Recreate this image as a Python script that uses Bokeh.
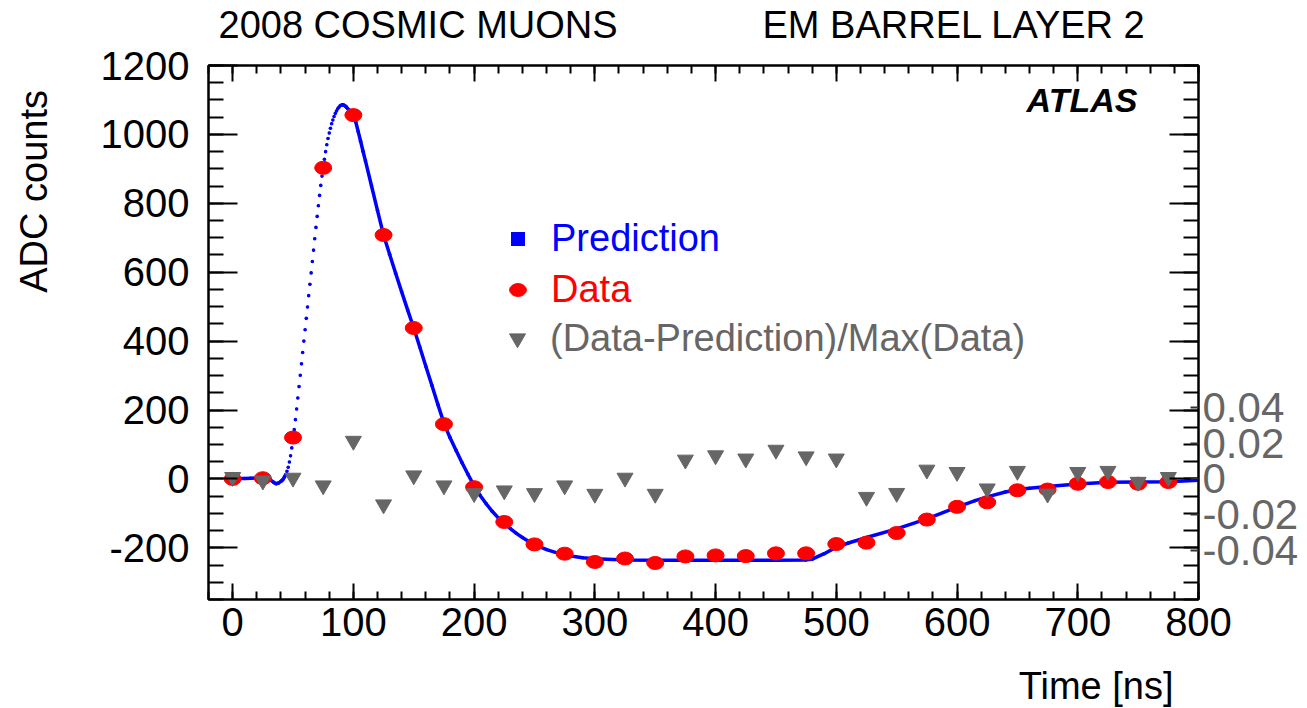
import numpy as np
from bokeh.plotting import figure
from bokeh.layouts import column, row
from bokeh.models import (Range1d, LinearAxis, SingleIntervalTicker, FixedTicker,
                          CustomJSTickFormatter, Label, Legend, LegendItem)
from bokeh.embed import file_html
from bokeh.resources import INLINE

# ---------------- data ----------------
data_time = [0, 25, 50, 75, 100, 125, 150, 175, 200, 225, 250, 275, 300, 325, 350, 375,
             400, 425, 450, 475, 500, 525, 550, 575, 600, 625, 650, 675, 700, 725, 750, 775]
data_adc = [0, 2, 120, 903, 1056, 708, 438, 159, -24, -125, -190, -217, -241, -231, -244, -225,
            -222, -224, -216, -216, -189, -185, -157, -118, -81, -68, -33, -31, -14, -9, -14, -9]
# (Data-Prediction)/Max(Data)
resid_values = [0.001, -0.001, 0.0006, -0.0037, 0.0212, -0.0143, 0.0019, -0.0037, -0.008, -0.0065,
                -0.008, -0.0037, -0.0084, 0.0006, -0.0084, 0.0107, 0.0131, 0.0113, 0.0162, 0.0125,
                0.0113, -0.0101, -0.0079, 0.0051, 0.0038, -0.0054, 0.0044, -0.0083, 0.0038, 0.0044,
                -0.0017, 0.001]

pred_time = [0, 5, 10, 15, 20, 25, 28, 31, 34, 36, 38,
             40, 41, 42, 43, 44, 45, 46, 47, 48, 49, 50, 51, 52, 53, 54, 55, 56, 57, 58, 59,
             60, 61, 62, 63, 64, 65, 66, 67, 68, 69, 70, 71, 72, 73, 74, 75, 76, 77, 78, 79,
             80, 81, 82, 83, 84, 85, 86, 87, 88, 89, 90, 91, 92, 93, 94, 95, 96,
             98, 100, 102, 104, 106, 108, 110, 115, 120, 125, 130, 135, 140, 145, 150, 155,
             160, 165, 170, 175, 180, 185, 190, 195, 200, 205, 210, 215, 220, 225, 230, 235,
             240, 245, 250, 260, 270, 280, 290, 300, 325, 350, 400, 450, 475, 480, 490, 500,
             510, 525, 550, 575, 600, 615, 625, 640, 650, 660, 675, 700, 725, 750, 775, 800]
pred_adc = [0, 1, 1, 2, 3, 4, 3, -2, -10, -14, -12,
            -7, -4, 0, 6, 13, 22, 34, 49, 67, 90, 116, 143, 172, 203, 235, 268, 301, 334, 367, 400,
            433, 466, 499, 532, 565, 598, 631, 664, 697, 730, 762, 793, 823, 852, 879, 904, 928, 950, 970, 988,
            1004, 1018, 1031, 1042, 1052, 1061, 1068, 1074, 1079, 1083, 1085, 1086, 1085, 1083, 1080, 1076, 1072,
            1066, 1056, 1036, 1008, 980, 951, 923, 851, 779, 708, 652, 597, 543, 490, 438, 383,
            327, 272, 216, 162, 120, 83, 47, 13, -20, -48, -72, -94, -113, -129, -144, -158,
            -170, -181, -190, -205, -216, -224, -229, -232, -235, -236, -236, -236, -235, -233, -217, -198,
            -186, -170, -145, -116, -82, -63, -52, -38, -31, -27, -22, -15, -10, -9, -8, -4]

resid_ticks = [-0.04, -0.02, 0, 0.02, 0.04]

title_left = "2008 COSMIC MUONS"
title_right = "EM BARREL LAYER 2"
x_title = "Time [ns]"
y_title = "ADC counts"
atlas_text = "ATLAS"
legend_labels = ["Prediction", "Data", "(Data-Prediction)/Max(Data)"]

# ---------------- styling ----------------
FONT = "Liberation Sans"
BLUE, RED, GREY = "#0000ff", "#ff0000", "#666666"
COUNTS_PER_RESID = 5200.0
W, H = 1307, 708
TOP_H, LEFT_W, BOTTOM_H = 45, 60, 53
MID_H = H - TOP_H - BOTTOM_H
FRAME_TOP, FRAME_BOTTOM, FRAME_LEFT, FRAME_RIGHT = 65, 598.5, 208, 1198


def strip(w, h):
    f = figure(width=w, height=h, output_backend="svg", toolbar_location=None, title=None,
               x_range=Range1d(0, w), y_range=Range1d(0, h),
               x_axis_location=None, y_axis_location=None, min_border=0)
    f.outline_line_color = None
    f.grid.grid_line_color = None
    f.background_fill_color = "white"
    f.border_fill_color = "white"
    return f


def add_label(fig, text, x, y, align, size="38px", style="normal", angle=0.0, color="black"):
    fig.add_layout(Label(x=x, y=y, text=text, text_font=FONT, text_font_size=size,
                         text_font_style=style, text_align=align, text_baseline="middle",
                         text_color=color, angle=angle))


# title strip (y measured from the strip's bottom edge)
top = strip(W, TOP_H)
add_label(top, title_left, 218, TOP_H - 24.5, "left")
add_label(top, title_right, 762, TOP_H - 24.5, "left")

# left strip with the y title
left = strip(LEFT_W, MID_H)
add_label(left, y_title, 33, MID_H - (73 - TOP_H), "right", angle=np.pi / 2)

# bottom strip with the x title
bottom = strip(W, BOTTOM_H)
add_label(bottom, x_title, 1173, H - 685, "right")

# ---------------- main plot ----------------
p = figure(width=W - LEFT_W, height=MID_H, output_backend="svg", toolbar_location=None, title=None,
           x_range=Range1d(-20, 800), y_range=Range1d(-350, 1200),
           x_axis_location=None, y_axis_location=None,
           min_border_left=FRAME_LEFT - LEFT_W, min_border_right=W - FRAME_RIGHT,
           min_border_top=FRAME_TOP - TOP_H,
           min_border_bottom=int(round(TOP_H + MID_H - FRAME_BOTTOM)))
p.extra_y_ranges = {"resid": Range1d(-350 / COUNTS_PER_RESID, 1200 / COUNTS_PER_RESID)}
p.grid.grid_line_color = None
p.outline_line_color = "black"
p.outline_line_width = 2
p.background_fill_color = "white"
p.border_fill_color = "white"

blank = CustomJSTickFormatter(code="return ''")
plain = CustomJSTickFormatter(code="return String(tick)")


def style(ax, major_in, minor_in, size="40px", standoff=5):
    ax.major_tick_in = major_in
    ax.major_tick_out = 0
    ax.minor_tick_in = minor_in
    ax.minor_tick_out = 0
    ax.major_tick_line_width = 2
    ax.minor_tick_line_width = 2
    ax.axis_line_width = 2
    ax.major_label_text_font = FONT
    ax.major_label_text_font_size = size
    ax.major_label_text_color = "black"
    ax.major_label_standoff = standoff


xb = LinearAxis(ticker=SingleIntervalTicker(interval=100, num_minor_ticks=5), formatter=plain)
style(xb, 16, 8, standoff=8)
p.add_layout(xb, "below")

xt = LinearAxis(ticker=SingleIntervalTicker(interval=100, num_minor_ticks=5), formatter=blank)
style(xt, 16, 8, size="0px", standoff=0)
p.add_layout(xt, "above")

yl = LinearAxis(ticker=SingleIntervalTicker(interval=200, num_minor_ticks=4), formatter=plain)
style(yl, 29, 15, standoff=19)
p.add_layout(yl, "left")

yr = LinearAxis(ticker=SingleIntervalTicker(interval=200, num_minor_ticks=4), formatter=blank)
style(yr, 29, 15, size="0px", standoff=0)
p.add_layout(yr, "right")

ra = LinearAxis(y_range_name="resid", ticker=FixedTicker(ticks=resid_ticks, minor_ticks=[]),
                formatter=CustomJSTickFormatter(code="return String(Math.round(tick*100)/100)"))
style(ra, 8, 0, size="42px", standoff=4)
ra.major_label_text_color = GREY
ra.axis_line_color = None
ra.major_tick_line_color = "#333333"
p.add_layout(ra, "right")

# ---------------- glyphs ----------------
pt = np.array(pred_time, dtype=float)
pv = np.array(pred_adc, dtype=float)
line_v = np.where((pt > 44) & (pt < 90), np.nan, pv)
p.line(pt, line_v, line_width=3.5, color=BLUE, line_join="round")
sq = p.scatter(pt, pv, marker="square", size=2.4, color=BLUE, line_width=0)
p.scatter(pt, pv, size=3.6, color=BLUE, line_width=0)

ell = p.ellipse(x=data_time, y=data_adc, width=17, height=13,
                width_units="screen", height_units="screen", color=RED)
tri = p.scatter(data_time, resid_values, marker="inverted_triangle", size=16,
                color=GREY, y_range_name="resid")


# ---------------- legends (one per entry, each with its own colour) ----------------
def make_legend(label, rend, color, x, y, gw, gh, standoff):
    lg = Legend(items=[LegendItem(label=label, renderers=[rend])], location=(x, y),
                orientation="vertical", padding=0, margin=0, spacing=0,
                glyph_width=gw, glyph_height=gh, label_standoff=standoff,
                label_height=46, label_text_font=FONT, label_text_font_size="38px",
                label_text_color=color, background_fill_alpha=0, border_line_color=None)
    p.add_layout(lg)


make_legend(legend_labels[0], sq, BLUE, 292, 338, 35, 35, 16)
make_legend(legend_labels[1], ell, RED, 299, 287, 21, 21, 23)
make_legend(legend_labels[2], tri, GREY, 289, 238, 40, 40, 13)

# ATLAS label inside the frame
add_label(p, atlas_text, 749.4, 1101, "right", size="34px", style="bold italic")

layout = column(top, row(left, p), bottom)
open("out.html", "w").write(file_html(layout, INLINE))
